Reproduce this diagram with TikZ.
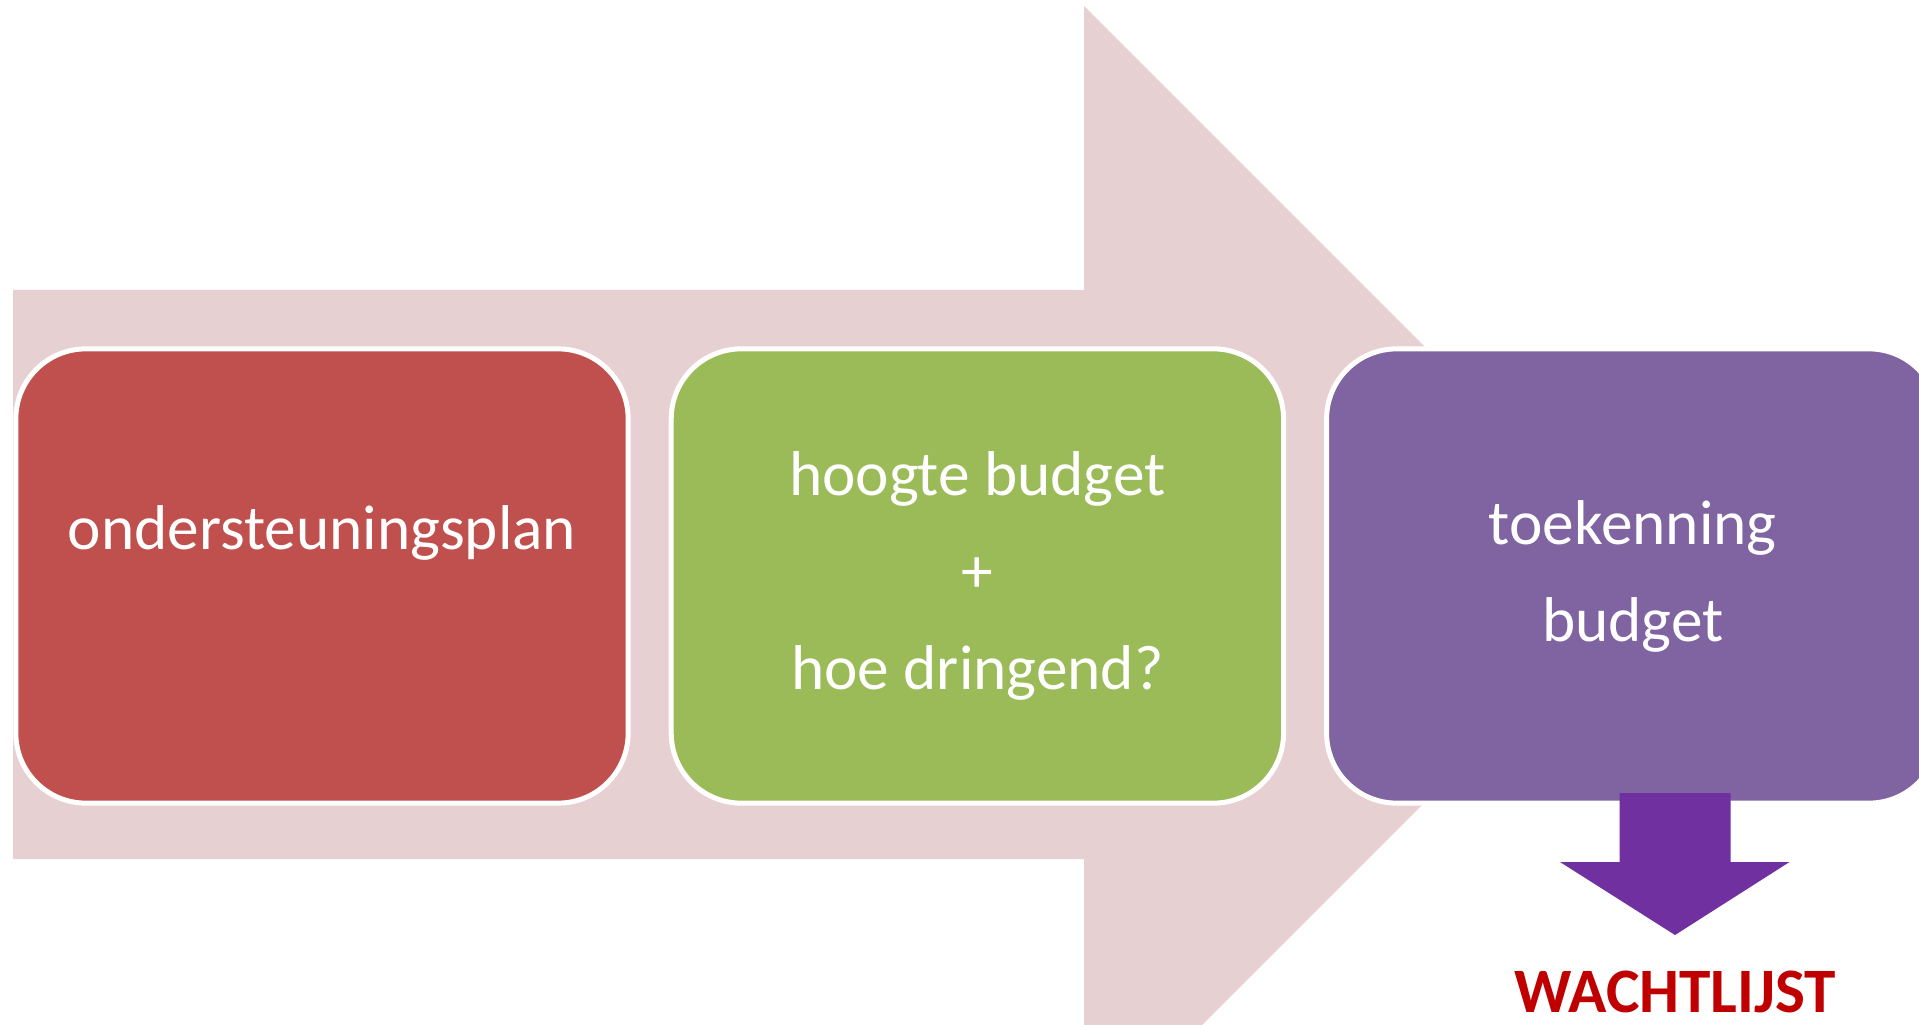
\documentclass[tikz,border=0pt]{standalone}
\usepackage{fontspec}
\setmainfont{Carlito}
\usetikzlibrary{positioning}
\definecolor{arrowpink}{HTML}{E6D0D1}
\definecolor{stepred}{HTML}{C0504D}
\definecolor{stepgreen}{HTML}{9BBB59}
\definecolor{steppurple}{HTML}{8064A2}
\definecolor{downpurple}{HTML}{7030A0}
\definecolor{waitred}{HTML}{C00000}
\tikzstyle{stepbox}=[rounded corners=0.7cm, draw=white, line width=0.05cm, minimum width=6.12cm, minimum height=4.54cm, inner sep=0pt, text=white, align=center, font=\fontsize{18}{27.6}\selectfont]
\tikzstyle{waitlabel}=[text=waitred, font=\fontsize{18}{22}\selectfont\bfseries, inner sep=0pt]

\begin{document}
\begin{tikzpicture}[x=0.01cm, y=-0.01cm]

  \useasboundingbox (0,0) rectangle (1919,1025);
  \clip (0,0) rectangle (1919,1025);

  % big background arrow
  \def\ax{1084};
  \def\ah{568.5};
  \fill[arrowpink] (13,290) -- (\ax,290) -- (\ax,574.5-\ah) -- (\ax+\ah,574.5) -- (\ax,574.5+\ah) -- (\ax,859) -- (13,859) -- cycle;

  % the three steps
  \node[stepbox, fill=stepred] (plan) at (322,576) {ondersteuningsplan\\ \mbox{}};
  \node[stepbox, fill=stepgreen, right=0.38cm of plan] (hoogte) {hoogte budget\\+\\hoe dringend?};
  \node[stepbox, fill=steppurple, right=0.38cm of hoogte] (toek) {toekenning\\budget};

  % down arrow to the waiting list
  \node[waitlabel, anchor=base] (wacht) at (1675,1012) {WACHTLIJST};
  \coordinate (dtop) at (1675,793);
  \fill[downpurple] (dtop) ++(-55.5,0) -- ++(111,0) -- ++(0,69) -- ++(59,0) -- (wacht.north |- 0,935) -- (1560,862) -- (1619.5,862) -- cycle;

\end{tikzpicture}
\end{document}
